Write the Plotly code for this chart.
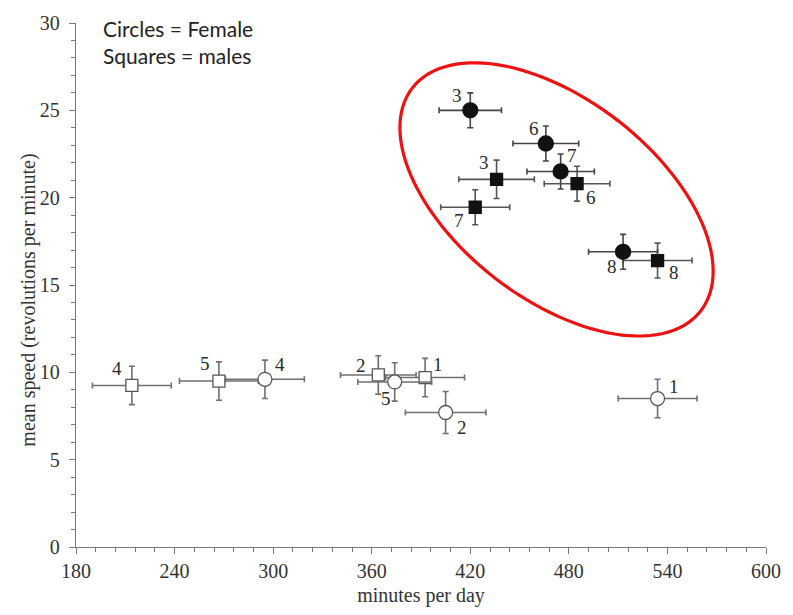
import numpy as np
import plotly.graph_objects as go

# ---------------- data ----------------
fem_filled_id = ["3", "6", "7", "8"]
fem_filled_min = [420, 466, 475, 513]
fem_filled_speed = [25.0, 23.1, 21.5, 16.9]
fem_filled_xerr = [19, 20, 20.5, 21]
fem_filled_yerr = [1.0, 1.0, 1.0, 1.0]

fem_open_id = ["4", "5", "2", "1"]
fem_open_min = [295, 374, 405, 534]
fem_open_speed = [9.6, 9.45, 7.7, 8.5]
fem_open_xerr = [24, 22.5, 24.5, 24]
fem_open_yerr = [1.1, 1.1, 1.2, 1.1]

male_filled_id = ["3", "6", "7", "8"]
male_filled_min = [436, 485, 423, 534]
male_filled_speed = [21.05, 20.8, 19.45, 16.4]
male_filled_xerr = [23, 20, 21, 21]
male_filled_yerr = [1.1, 1.0, 1.0, 1.0]

male_open_id = ["4", "5", "2", "1"]
male_open_min = [214, 267, 364, 392.5]
male_open_speed = [9.25, 9.5, 9.85, 9.7]
male_open_xerr = [24, 24, 23, 24]
male_open_yerr = [1.1, 1.1, 1.1, 1.1]

x_ticks = [180, 240, 300, 360, 420, 480, 540, 600]
y_ticks = [0, 5, 10, 15, 20, 25, 30]

# ---------------- style ----------------
W, H = 793, 615
ML, MR, MT, MB = 76, 22, 16, 68
XR = [180, 600]
YR = [0, 30]
SERIF = "Liberation Serif, Times New Roman, serif"

# label pixel offsets (dx, dy with y up) for each point label
fem_filled_off = [(-13, 15), (-12, 15), (11, 16), (-11, -15)]
fem_open_off = [(15, 15), (-9, -17), (16, -15), (16, 12)]
male_filled_off = [(-13, 17), (14, -14), (-16, -13), (16, -12)]
male_open_off = [(-15, 17), (-14, 18), (-17, 9), (13, 13)]

fig = go.Figure()


def add_series(xs, ys, xe, ye, symbol, fill, line_col, err_col, size):
    fig.add_trace(go.Scatter(
        x=xs, y=ys, mode="markers",
        marker=dict(symbol=symbol, size=size, color=fill,
                    line=dict(color=line_col, width=1.3)),
        error_x=dict(type="data", array=xe, visible=True, color=err_col,
                     thickness=1.6, width=3),
        error_y=dict(type="data", array=ye, visible=True, color=err_col,
                     thickness=1.6, width=3),
        showlegend=False, hoverinfo="skip",
    ))


add_series(male_open_min, male_open_speed, male_open_xerr, male_open_yerr,
           "square", "white", "#555555", "#707070", 12)
add_series(fem_open_min, fem_open_speed, fem_open_xerr, fem_open_yerr,
           "circle", "white", "#555555", "#707070", 14)
add_series(male_filled_min, male_filled_speed, male_filled_xerr, male_filled_yerr,
           "square", "#111111", "#111111", "#555555", 12)
add_series(fem_filled_min, fem_filled_speed, fem_filled_xerr, fem_filled_yerr,
           "circle", "#111111", "#111111", "#444444", 15)


def add_labels(ids, xs, ys, offs):
    for t, x, y, (dx, dy) in zip(ids, xs, ys, offs):
        fig.add_annotation(x=x, y=y, text=t, showarrow=False,
                           xshift=dx, yshift=dy,
                           font=dict(family=SERIF, size=19, color="#2a2a2a"))


add_labels(fem_filled_id, fem_filled_min, fem_filled_speed, fem_filled_off)
add_labels(fem_open_id, fem_open_min, fem_open_speed, fem_open_off)
add_labels(male_filled_id, male_filled_min, male_filled_speed, male_filled_off)
add_labels(male_open_id, male_open_min, male_open_speed, male_open_off)

# red ellipse highlighting the filled group (drawn in pixel proportions)
pw, ph = W - ML - MR, H - MT - MB
sx = pw / (XR[1] - XR[0])
sy = ph / (YR[1] - YR[0])
ecx, ecy = 472.5, 19.9          # centre in data units
ea, eb, eth = 184, 101, np.deg2rad(38)  # semi-axes (px) and tilt
t = np.linspace(0, 2 * np.pi, 121)
dpx = ea * np.cos(eth) * np.cos(t) - eb * np.sin(eth) * np.sin(t)
dpy = ea * np.sin(eth) * np.cos(t) + eb * np.cos(eth) * np.sin(t)
ex = ecx + dpx / sx
ey = ecy - dpy / sy
path = "M " + " L ".join(f"{a:.3f},{b:.3f}" for a, b in zip(ex, ey)) + " Z"
fig.add_shape(type="path", path=path, xref="x", yref="y",
              line=dict(color="#ee1111", width=3.2))

# legend-like note
for txt, yp in [("Circles = Female", 6), ("Squares = males", 33)]:
    fig.add_annotation(xref="paper", yref="paper", x=25 / pw, y=1 - yp / ph,
                       xanchor="left", yanchor="middle", showarrow=False,
                       text=txt,
                       font=dict(family="Lato, sans-serif", size=21, color="#222222"))

# y-axis title as rotated annotation (slightly below plot centre as in reference)
fig.add_annotation(xref="paper", yref="paper", x=-48 / pw, y=(547 - 297) / ph,
                   xanchor="center", yanchor="middle", showarrow=False,
                   textangle=-90, text="mean speed (revolutions per minute)",
                   font=dict(family=SERIF, size=20, color="#333333"))

axis_common = dict(
    showgrid=False, zeroline=False, showline=True, linecolor="#777777",
    linewidth=1.3, ticks="outside", ticklen=6, tickcolor="#777777",
    tickwidth=1.2, tickfont=dict(family=SERIF, size=20, color="#333333"),
)

fig.update_xaxes(range=XR, tickvals=x_ticks, **axis_common,
                 minor=dict(dtick=12, ticks="outside", ticklen=4,
                            tickcolor="#777777", tickwidth=1),
                 title=dict(text="minutes per day", standoff=6,
                            font=dict(family=SERIF, size=20, color="#333333")))
fig.update_yaxes(range=YR, tickvals=y_ticks, **axis_common,
                 ticklabelstandoff=5,
                 minor=dict(dtick=1, ticks="outside", ticklen=4,
                            tickcolor="#777777", tickwidth=1))

fig.update_layout(
    width=W, height=H,
    margin=dict(l=ML, r=MR, t=MT, b=MB),
    plot_bgcolor="white", paper_bgcolor="white",
)

fig.write_html("out.html")
